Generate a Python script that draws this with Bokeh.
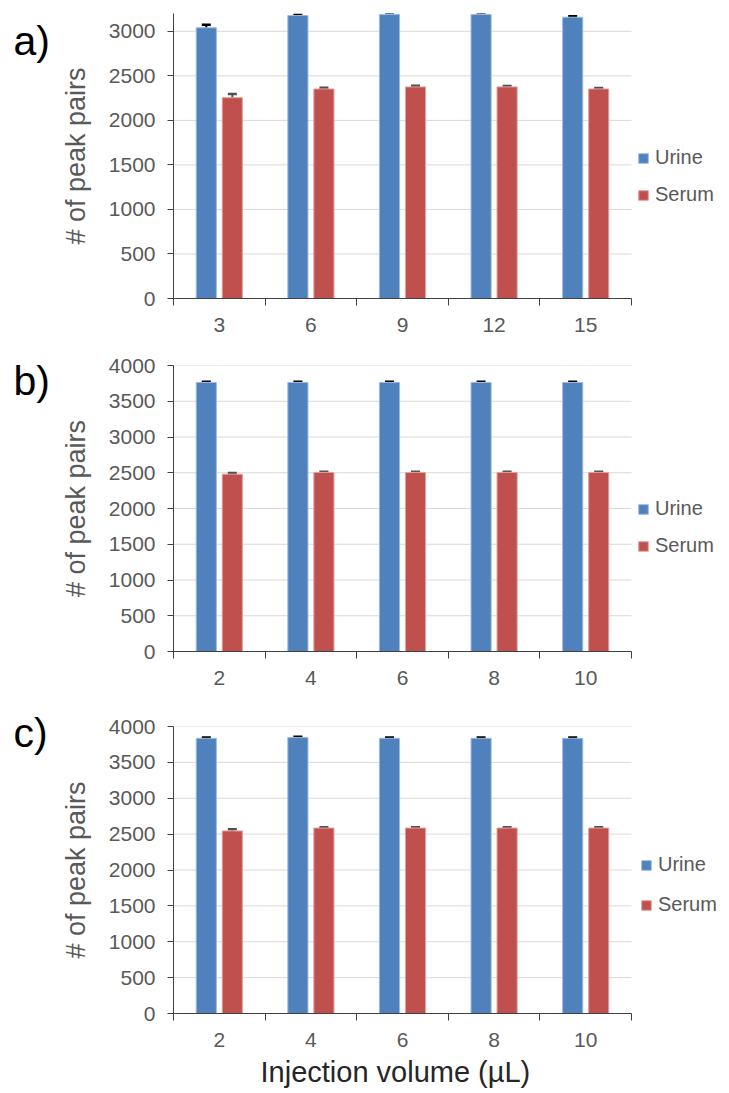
from bokeh.plotting import figure
from bokeh.models import (Range1d, FixedTicker, Whisker, TeeHead, ColumnDataSource,
                          Legend, LegendItem, Title)
from bokeh.core.properties import value
from bokeh.layouts import column, row
from bokeh.embed import file_html
from bokeh.resources import INLINE
import numpy as np

FONT = "Liberation Sans"

# ---- data ----
vols_a = ["3", "6", "9", "12", "15"]
urine_a = [3040, 3177, 3188, 3188, 3158]
urine_a_err = [35, 10, 8, 8, 10]
serum_a = [2255, 2353, 2376, 2376, 2353]
serum_a_err = [40, 12, 12, 10, 10]

vols_b = ["2", "4", "6", "8", "10"]
urine_b = [3762, 3762, 3762, 3762, 3762]
urine_b_err = [10, 10, 10, 10, 10]
serum_b = [2480, 2505, 2505, 2505, 2505]
serum_b_err = [15, 10, 10, 10, 10]

vols_c = ["2", "4", "6", "8", "10"]
urine_c = [3835, 3845, 3835, 3835, 3835]
urine_c_err = [12, 12, 12, 12, 12]
serum_c = [2545, 2585, 2585, 2585, 2585]
serum_c_err = [22, 12, 12, 12, 12]

panel_tags = ["a)", "b)", "c)"]
x_title = "Injection volume  (\u00b5L)"
y_title = "# of peak pairs"

URINE = "#4F81BD"
SERUM = "#C0504D"
GRAY = "#595959"
AXIS = "#404040"
LEFT_W = 52
FRAME_LEFT = 173      # page x of the plot frame's left edge
CAT_PX = 91.6         # width of one category, px


def panel(vols, urine, uerr, serum, serr, ymax, height, top, bottom,
          leg_vx, leg_vy, leg_spacing, xtitle=None):
    n = len(vols)
    pos = np.arange(1, n + 1)
    frame_w = 729 - FRAME_LEFT
    x_end = 0.5 + frame_w / CAT_PX
    p = figure(width=729 - LEFT_W, height=height, output_backend="svg", toolbar_location=None,
               x_range=Range1d(0.5, x_end), y_range=Range1d(0, ymax),
               min_border_left=FRAME_LEFT - LEFT_W, min_border_right=0,
               min_border_top=top, min_border_bottom=bottom)
    p.outline_line_color = None
    p.grid.grid_line_color = None

    yticks = list(range(0, ymax + 1, 500))
    # horizontal grid lines limited to the category area
    p.segment(x0=0.5, x1=n + 0.5, y0=yticks[1:], y1=yticks[1:],
              line_color="#d9d9d9", line_width=1, level="underlay")

    src_u = ColumnDataSource(dict(x=pos - 0.142, top=urine,
                                  upper=np.array(urine) + np.array(uerr),
                                  lower=np.array(urine) - np.array(uerr)))
    src_s = ColumnDataSource(dict(x=pos + 0.142, top=serum,
                                  upper=np.array(serum) + np.array(serr),
                                  lower=np.array(serum) - np.array(serr)))
    ru = p.vbar(x="x", top="top", width=0.22, source=src_u, fill_color=URINE,
                line_color="#9DBBE0", line_width=1)
    rs = p.vbar(x="x", top="top", width=0.22, source=src_s, fill_color=SERUM,
                line_color="#E2A3A1", line_width=1)

    for src, col in ((src_u, "black"), (src_s, "#505050")):
        w = Whisker(base="x", upper="upper", lower="lower", source=src,
                    line_color=col, line_width=2,
                    upper_head=TeeHead(size=9, line_color=col, line_width=2.5),
                    lower_head=TeeHead(size=9, line_color=col, line_width=2.5))
        p.add_layout(w)

    # x axis
    xa = p.xaxis[0]
    xa.bounds = (0.5, n + 0.5)
    xa.ticker = FixedTicker(ticks=list(pos), minor_ticks=list(np.arange(0.5, n + 1, 1.0)))
    xa.major_label_overrides = {int(k): v for k, v in zip(pos, vols)}
    xa.major_tick_line_color = None
    xa.minor_tick_out = 7
    xa.minor_tick_in = 0
    xa.minor_tick_line_color = AXIS
    xa.axis_line_color = AXIS
    xa.major_label_text_font = FONT
    xa.major_label_text_font_size = "21px"
    xa.major_label_text_color = GRAY
    xa.major_label_standoff = 12
    if xtitle:
        t = Title(text=xtitle, align="left", offset=87, standoff=9,
                  text_font=FONT, text_font_size="29px", text_font_style="normal",
                  text_color="#262626")
        p.add_layout(t, "below")

    # y axis
    ya = p.yaxis[0]
    ya.ticker = FixedTicker(ticks=yticks)
    ya.axis_line_color = AXIS
    ya.major_tick_line_color = AXIS
    ya.major_tick_out = 6
    ya.major_tick_in = 0
    ya.minor_tick_line_color = None
    ya.major_label_text_font = FONT
    ya.major_label_text_font_size = "21px"
    ya.major_label_text_color = GRAY
    ya.major_label_standoff = 12
    ya.axis_label = y_title
    ya.axis_label_text_font = FONT
    ya.axis_label_text_font_size = "27px"
    ya.axis_label_text_font_style = "normal"
    ya.axis_label_text_color = GRAY
    ya.axis_label_standoff = 15

    legend = Legend(items=[LegendItem(label="Urine", renderers=[ru]),
                           LegendItem(label="Serum", renderers=[rs])],
                    location=(leg_vx, leg_vy), orientation="vertical",
                    label_text_font=FONT, label_text_font_size="20px",
                    label_text_color=GRAY, glyph_width=12, glyph_height=12,
                    label_height=20, label_standoff=6, spacing=leg_spacing,
                    padding=0, margin=0, border_line_color=None,
                    background_fill_alpha=0)
    p.add_layout(legend, "center")
    return p


pa = panel(vols_a, urine_a, urine_a_err, serum_a, serum_a_err, 3200, 345, 13, 47,
           464, 92, 14)
pb = panel(vols_b, urine_b, urine_b_err, serum_b, serum_b_err, 4000, 355, 20, 49,
           464, 94, 14)
pc = panel(vols_c, urine_c, urine_c_err, serum_c, serum_c_err, 4000, 393, 26, 80,
           467, 97, 17, xtitle=x_title)

# left strip holding the panel tags a), b), c)
tags = figure(width=LEFT_W, height=1093, output_backend="svg", toolbar_location=None,
              x_range=Range1d(0, LEFT_W), y_range=Range1d(1093, 0),
              x_axis_type=None, y_axis_type=None,
              min_border_left=0, min_border_right=0, min_border_top=0, min_border_bottom=0)
tags.outline_line_color = None
tags.grid.grid_line_color = None
tags.text(x=[13, 13, 13], y=[40, 380, 732], text=panel_tags,
          text_font=value(FONT), text_font_size="41px", text_color="black",
          text_baseline="middle", text_align="left")

layout = row(tags, column(pa, pb, pc, spacing=0), spacing=0)
open("out.html", "w").write(file_html(layout, INLINE))
